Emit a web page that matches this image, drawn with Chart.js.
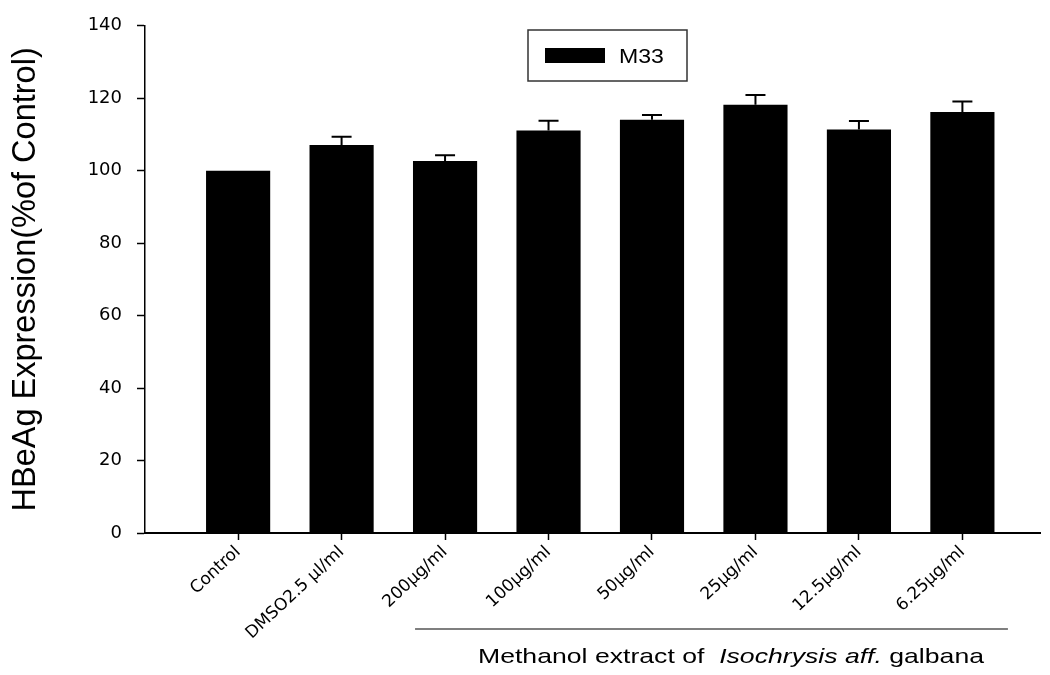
<!DOCTYPE html>
<html>
<head>
<meta charset="utf-8">
<script src="https://cdn.jsdelivr.net/npm/chart.js@4.4.1/dist/chart.umd.min.js"></script>
<style>
  html, body { margin: 0; padding: 0; background: #ffffff; }
  #wrap { width: 1050px; height: 675px; position: relative; }
</style>
</head>
<body>
<div id="wrap"><canvas id="c" width="1050" height="675"></canvas></div>
<script>
// ---- data ----
const categories = ['Control', 'DMSO2.5 \u03bcl/ml', '200\u03bcg/ml', '100\u03bcg/ml', '50\u03bcg/ml', '25\u03bcg/ml', '12.5\u03bcg/ml', '6.25\u03bcg/ml'];
const seriesName = 'M33';
const values = [100, 107.1, 102.7, 111.1, 114.1, 118.2, 111.4, 116.2];
const errors = [0, 2.3, 1.6, 2.7, 1.3, 2.7, 2.3, 2.9];
const yTicks = [0, 20, 40, 60, 80, 100, 120, 140];
const yTitle = 'HBeAg Expression(%of Control)';
const groupLabelParts = [
  { text: 'Methanol extract of  ', italic: false },
  { text: 'Isochrysis aff.', italic: true },
  { text: ' galbana', italic: false }
];

const errorBars = {
  id: 'errorBars',
  afterDatasetsDraw(chart) {
    const meta = chart.getDatasetMeta(0);
    const ys = chart.scales.y;
    const ctx = chart.ctx;
    ctx.save();
    ctx.strokeStyle = '#000';
    ctx.lineWidth = 2;
    meta.data.forEach((bar, i) => {
      if (!errors[i]) return;
      const x = bar.x;
      const y0 = ys.getPixelForValue(values[i]);
      const y1 = ys.getPixelForValue(values[i] + errors[i]);
      ctx.beginPath();
      ctx.moveTo(x, y0);
      ctx.lineTo(x, y1);
      ctx.moveTo(x - 10, y1);
      ctx.lineTo(x + 10, y1);
      ctx.stroke();
    });
    ctx.restore();
  }
};

const boxLegend = {
  id: 'boxLegend',
  afterDraw(chart) {
    const ctx = chart.ctx;
    ctx.save();
    ctx.strokeStyle = '#333';
    ctx.lineWidth = 1.5;
    ctx.strokeRect(528, 30, 159, 51);
    ctx.fillStyle = '#000';
    ctx.fillRect(545, 48, 60, 15);
    ctx.font = '21px "Liberation Sans", Arial, sans-serif';
    ctx.textBaseline = 'alphabetic';
    ctx.translate(619, 63);
    ctx.scale(1.1, 1);
    ctx.fillText(chart.data.datasets[0].label, 0, 0);
    ctx.restore();
  }
};

const groupLabel = {
  id: 'groupLabel',
  afterDraw(chart) {
    const xs = chart.scales.x;
    const ctx = chart.ctx;
    ctx.save();
    ctx.strokeStyle = '#555';
    ctx.lineWidth = 1.5;
    ctx.beginPath();
    ctx.moveTo(xs.getPixelForValue(2.71), 629);
    ctx.lineTo(xs.getPixelForValue(8.44), 629);
    ctx.stroke();
    const normal = '21px "Liberation Sans", Arial, sans-serif';
    const ital = 'italic 21px "Liberation Sans", Arial, sans-serif';
    let w = 0;
    groupLabelParts.forEach(p => { ctx.font = p.italic ? ital : normal; w += ctx.measureText(p.text).width; });
    const x0 = 478, x1 = 984;
    const sx = (x1 - x0) / w;
    ctx.translate(x0, 663);
    ctx.scale(sx, 1);
    ctx.fillStyle = '#000';
    ctx.textBaseline = 'alphabetic';
    let x = 0;
    groupLabelParts.forEach(p => {
      ctx.font = p.italic ? ital : normal;
      ctx.fillText(p.text, x, 0);
      x += ctx.measureText(p.text).width;
    });
    ctx.restore();
  }
};

new Chart(document.getElementById('c'), {
  type: 'bar',
  data: {
    datasets: [{
      label: seriesName,
      data: categories.map((c, i) => ({ x: i + 1, y: values[i] })),
      backgroundColor: '#000',
      borderWidth: 0,
      barPercentage: 0.62,
      categoryPercentage: 1.0
    }]
  },
  options: {
    responsive: false,
    animation: false,
    layout: { padding: { top: 19, right: 10, left: 0, bottom: 0 } },
    plugins: { legend: { display: false }, tooltip: { enabled: false } },
    scales: {
      x: {
        type: 'linear',
        min: 0.1,
        max: 8.75,
        offset: false,
        afterBuildTicks: (s) => { s.ticks = categories.map((c, i) => ({ value: i + 1 })); },
        afterFit: (s) => { s.height = 142; },
        grid: { display: true, offset: false, drawOnChartArea: false, tickLength: 7, tickColor: '#000', tickWidth: 1.5 },
        border: { display: true, color: '#000', width: 2 },
        ticks: {
          color: '#000',
          minRotation: 43,
          maxRotation: 43,
          padding: 2,
          autoSkip: false,
          font: { family: '"DejaVu Sans", sans-serif', size: 17 },
          callback: (v) => categories[Math.round(v) - 1]
        }
      },
      y: {
        min: 0,
        max: 140,
        afterBuildTicks: (s) => { s.ticks = yTicks.map(v => ({ value: v })); },
        afterFit: (s) => { s.width = 145; },
        grid: { display: true, drawOnChartArea: false, tickLength: 8, tickColor: '#000', tickWidth: 1.5 },
        border: { display: true, color: '#000', width: 1.5 },
        ticks: {
          color: '#000',
          padding: 15,
          font: { family: '"DejaVu Sans", sans-serif', size: 18 }
        },
        title: {
          display: true,
          text: yTitle,
          color: '#000',
          padding: { top: 7, bottom: 0 },
          font: { family: '"Liberation Sans", Arial, sans-serif', size: 32.5 }
        }
      }
    }
  },
  plugins: [errorBars, boxLegend, groupLabel]
});
</script>
</body>
</html>
